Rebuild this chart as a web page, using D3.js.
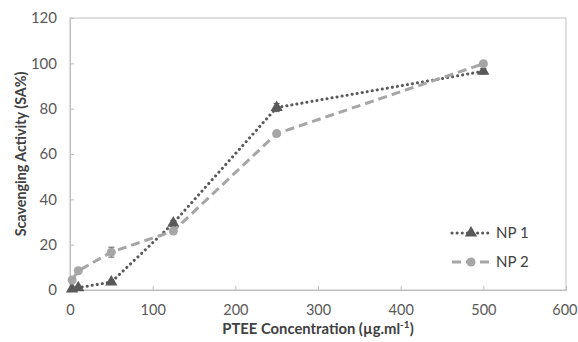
<!DOCTYPE html>
<html><head><meta charset="utf-8">
<script src="https://cdn.jsdelivr.net/npm/d3@7"></script>
<style>body{margin:0;background:#fff}svg{display:block}text{font-family:Lato,"Open Sans",sans-serif}</style>
</head><body><svg id="c" width="578" height="342"></svg>
<script>
const concentrations = [2.5, 10, 50, 125, 250, 500];
const np1 = [0.5, 1, 3.5, 29.5, 80.5, 96.5];
const np1Err = [0.5, 0.5, 0.8, 1.2, 1.8, 1.2];
const np2 = [4.4, 8.5, 16.7, 26, 69, 99.8];
const np2Err = [0.8, 0.8, 2.2, 1.2, 1.2, 0.8];
const xTicks = [0, 100, 200, 300, 400, 500, 600];
const yTicks = [0, 20, 40, 60, 80, 100, 120];
const seriesNames = ["NP 1", "NP 2"];

const svg = d3.select("#c");
const L = 70, R = 566, T = 18, B = 290;
const x = d3.scaleLinear().domain([0, 600]).range([L, R]);
const y = d3.scaleLinear().domain([0, 120]).range([B, T]);
const axisColor = "#BFBFBF", labelColor = "#595959";

svg.append("rect").attr("x", L).attr("y", T).attr("width", R - L).attr("height", B - T)
  .attr("fill", "none").attr("stroke", axisColor).attr("stroke-width", 1);

const xa = svg.append("g").attr("transform", `translate(0,${B})`)
  .call(d3.axisBottom(x).tickValues(xTicks).tickSizeInner(-4).tickSizeOuter(0).tickPadding(15));
xa.select(".domain").attr("stroke", axisColor);
xa.selectAll(".tick line").attr("stroke", axisColor);
xa.selectAll(".tick text").attr("fill", labelColor).attr("font-size", 14.5);
xa.selectAll(".tick text").filter(d => d === 600).attr("text-anchor", "end").attr("x", 577 - x(600));

const ya = svg.append("g").attr("transform", `translate(${L},0)`)
  .call(d3.axisLeft(y).tickValues(yTicks).tickSizeInner(-4).tickSizeOuter(0).tickPadding(13));
ya.select(".domain").attr("stroke", axisColor);
ya.selectAll(".tick line").attr("stroke", axisColor);
ya.selectAll(".tick text").attr("fill", labelColor).attr("font-size", 15);

svg.append("text").attr("x", 318).attr("y", 334).attr("text-anchor", "middle")
  .attr("font-size", 14.8).attr("font-weight", "bold").attr("fill", "#404040")
  .html('PTEE Concentration  (µg.ml<tspan baseline-shift="super" font-size="10">-1</tspan>)');
svg.append("text").attr("transform", `translate(26,${(T + B) / 2}) rotate(-90)`)
  .attr("text-anchor", "middle").attr("font-size", 14.3).attr("font-weight", "bold").attr("fill", "#404040")
  .text("Scavenging Activity (SA%)");

const series = [
  {name: seriesNames[0], vals: np1, err: np1Err, color: "#595959", dash: "0.1 5", cap: "round", w: 3, sym: d3.symbolTriangle, size: 65},
  {name: seriesNames[1], vals: np2, err: np2Err, color: "#A6A6A6", dash: "9 5", cap: "butt", w: 3, sym: d3.symbolCircle, size: 64}
];
const line = d3.line().x(d => x(d[0])).y(d => y(d[1]));

series.forEach(s => {
  const pts = concentrations.map((c, i) => [c, s.vals[i], s.err[i]]);
  svg.append("path").datum(pts).attr("d", line).attr("fill", "none")
    .attr("stroke", s.color).attr("stroke-width", s.w).attr("stroke-dasharray", s.dash).attr("stroke-linecap", s.cap);
  const eb = svg.append("g");
  pts.forEach(p => {
    eb.append("line").attr("x1", x(p[0])).attr("x2", x(p[0])).attr("y1", y(p[1] - p[2])).attr("y2", y(p[1] + p[2]))
      .attr("stroke", "#595959").attr("stroke-width", 1);
    [p[1] - p[2], p[1] + p[2]].forEach(v => eb.append("line").attr("x1", x(p[0]) - 3).attr("x2", x(p[0]) + 3)
      .attr("y1", y(v)).attr("y2", y(v)).attr("stroke", "#595959").attr("stroke-width", 1));
  });
  svg.append("g").selectAll("path").data(pts).join("path")
    .attr("d", d3.symbol().type(s.sym).size(s.size))
    .attr("transform", d => `translate(${x(d[0])},${y(d[1])})`).attr("fill", s.color);
});

// legend
series.forEach((s, i) => {
  const ly = 233 + i * 29;
  svg.append("line").attr("x1", 452).attr("x2", 490).attr("y1", ly).attr("y2", ly)
    .attr("stroke", s.color).attr("stroke-width", s.w).attr("stroke-dasharray", s.dash).attr("stroke-linecap", s.cap);
  svg.append("path").attr("d", d3.symbol().type(s.sym).size(s.size)).attr("transform", `translate(471,${ly})`).attr("fill", s.color);
  svg.append("text").attr("x", 496).attr("y", ly + 5).attr("font-size", 15).attr("fill", "#404040").text(s.name);
});
</script></body></html>
